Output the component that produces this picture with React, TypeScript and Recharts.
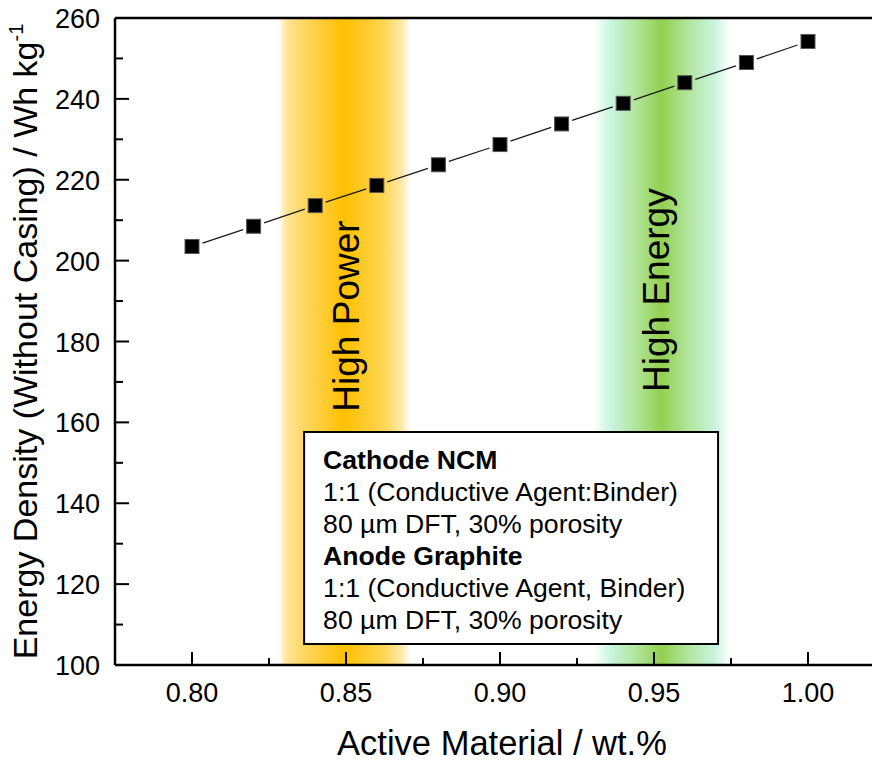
import React from "react";
import {
  ReferenceArea,
  ReferenceDot,
  ReferenceLine,
  Scatter,
  ScatterChart,
  XAxis,
  YAxis,
} from "recharts";

const FONT = '"Liberation Sans", Arial, sans-serif';

// series: energy density vs. active material fraction
const activeMaterial = [0.8, 0.82, 0.84, 0.86, 0.88, 0.9, 0.92, 0.94, 0.96, 0.98, 1.0];
const energyDensity = [203.5, 208.5, 213.6, 218.6, 223.7, 228.7, 233.8, 238.9, 244.0, 249.0, 254.2];

// axis ticks
const xMajorTicks = [0.8, 0.85, 0.9, 0.95, 1.0];
const xMinorTicks = [0.825, 0.875, 0.925, 0.975];
const yMajorTicks = [100, 120, 140, 160, 180, 200, 220, 240, 260];
const yMinorTicks = [110, 130, 150, 170, 190, 210, 230, 250];

// shaded regions [from, to] on the x axis
const powerBand = [0.828, 0.871];
const energyBand = [0.931, 0.974];

// band labels [x, y]
const powerLabelPos = [0.85, 186.3];
const energyLabelPos = [0.9505, 192.7];

// info box corners [x1, x2] and [y1, y2]
const boxX = [0.8364, 0.9708];
const boxY = [105.2, 157.6];
const boxLines = [
  { text: "Cathode NCM", bold: true },
  { text: "1:1 (Conductive Agent:Binder)", bold: false },
  { text: "80 µm DFT, 30% porosity", bold: false },
  { text: "Anode Graphite", bold: true },
  { text: "1:1 (Conductive Agent, Binder)", bold: false },
  { text: "80 µm DFT, 30% porosity", bold: false },
];

const data = activeMaterial.map((x, i) => ({ x, y: energyDensity[i] }));
const xTicks = [...xMajorTicks, ...xMinorTicks].sort((a, b) => a - b);
const yTicks = [...yMajorTicks, ...yMinorTicks].sort((a, b) => a - b);

const isMajor = (v: number, list: number[]) => list.some((m) => Math.abs(m - v) < 1e-6);

function XTick(props: any) {
  const { x, y, payload } = props;
  const major = isMajor(payload.value, xMajorTicks);
  return (
    <g>
      <line x1={x} x2={x} y1={y} y2={y - (major ? 13 : 7)} stroke="#000" strokeWidth={2} />
      {major && (
        <text x={x} y={y + 37} textAnchor="middle" fontSize={27} fontFamily={FONT} fill="#000">
          {payload.value.toFixed(2)}
        </text>
      )}
    </g>
  );
}

function YTick(props: any) {
  const { x, y, payload } = props;
  const major = isMajor(payload.value, yMajorTicks);
  return (
    <g>
      <line x1={x} x2={x + (major ? 14 : 8)} y1={y} y2={y} stroke="#000" strokeWidth={2} />
      {major && (
        <text x={x - 15} y={y + 10} textAnchor="end" fontSize={27} fontFamily={FONT} fill="#000">
          {payload.value}
        </text>
      )}
    </g>
  );
}

function XLabel(props: any) {
  const vb = props.viewBox;
  return (
    <text x={vb.x + vb.width / 2 + 2} y={vb.y + 90} textAnchor="middle" fontSize={34.5} fontFamily={FONT} fill="#000">
      Active Material / wt.%
    </text>
  );
}

function YLabel(props: any) {
  const vb = props.viewBox;
  const cx = 29;
  const cy = vb.y + vb.height / 2;
  return (
    <text
      x={cx}
      y={cy}
      textAnchor="middle"
      fontSize={34}
      fontFamily={FONT}
      fill="#000"
      transform={`rotate(-90, ${cx}, ${cy})`}
    >
      Energy Density (Without Casing) / Wh kg
      <tspan fontSize={20} dy={-14}>-1</tspan>
    </text>
  );
}

function bandLabel(text: string) {
  return (props: any) => {
    const vb = props.viewBox;
    const cx = vb.x + (vb.width || 0) / 2;
    const cy = vb.y + (vb.height || 0) / 2;
    return (
      <text
        x={cx}
        y={cy}
        dy={13}
        textAnchor="middle"
        fontSize={37}
        fontFamily={FONT}
        fill="#000"
        transform={`rotate(-90, ${cx}, ${cy})`}
      >
        {text}
      </text>
    );
  };
}

function BoxText(props: any) {
  const vb = props.viewBox;
  return (
    <g>
      {boxLines.map((l, i) => (
        <text
          key={i}
          x={vb.x + 19}
          y={vb.y + 37 + i * 32}
          fontSize={26.6}
          fontFamily={FONT}
          fontWeight={l.bold ? "bold" : "normal"}
          fill="#000"
        >
          {l.text}
        </text>
      ))}
    </g>
  );
}

// line segments that stop short of each marker
function GapLine(props: any) {
  const pts = props.points || [];
  const gap = 11;
  const segs = [];
  for (let i = 0; i < pts.length - 1; i++) {
    const a = pts[i];
    const b = pts[i + 1];
    const dx = b.x - a.x;
    const dy = b.y - a.y;
    const len = Math.sqrt(dx * dx + dy * dy);
    if (len <= gap * 2) continue;
    const ux = dx / len;
    const uy = dy / len;
    segs.push(
      <line
        key={i}
        x1={a.x + ux * gap}
        y1={a.y + uy * gap}
        x2={b.x - ux * gap}
        y2={b.y - uy * gap}
        stroke="#1a1a1a"
        strokeWidth={1.3}
      />
    );
  }
  return <g>{segs}</g>;
}

function SquareDot(props: any) {
  const { cx, cy } = props;
  return <rect x={cx - 7} y={cy - 7} width={14} height={14} fill="#000" stroke="#555" strokeWidth={1} />;
}

export default function App() {
  return (
    <div style={{ width: 872, height: 753, overflow: "hidden" }}>
      <ScatterChart width={877} height={753} margin={{ top: 10, right: 0, bottom: 0, left: 0 }}>
        <defs>
          <linearGradient id="powerGrad" x1="0" y1="0" x2="1" y2="0">
            <stop offset="0%" stopColor="#FFFFFF" />
            <stop offset="6%" stopColor="#FFE59A" />
            <stop offset="18%" stopColor="#FFD866" />
            <stop offset="50%" stopColor="#FFC000" />
            <stop offset="80%" stopColor="#FFD655" />
            <stop offset="93%" stopColor="#FFE9A8" />
            <stop offset="100%" stopColor="#FFFFFF" />
          </linearGradient>
          <linearGradient id="energyGrad" x1="0" y1="0" x2="1" y2="0">
            <stop offset="0%" stopColor="#F6FFFA" />
            <stop offset="12%" stopColor="#C9F4DE" />
            <stop offset="30%" stopColor="#B2E59C" />
            <stop offset="50%" stopColor="#92D050" />
            <stop offset="70%" stopColor="#B2E59C" />
            <stop offset="90%" stopColor="#C9F4DE" />
            <stop offset="100%" stopColor="#F4FFF9" />
          </linearGradient>
        </defs>
        <XAxis
          dataKey="x"
          type="number"
          domain={[0.775, 1.025]}
          ticks={xTicks}
          interval={0}
          allowDataOverflow
          tickSize={0}
          tickMargin={0}
          tickLine={false}
          tick={<XTick />}
          axisLine={{ stroke: "#000", strokeWidth: 2.5 }}
          height={96}
          label={XLabel}
        />
        <YAxis
          dataKey="y"
          type="number"
          domain={[100, 260]}
          ticks={yTicks}
          interval={0}
          allowDataOverflow
          tickSize={0}
          tickMargin={0}
          tickLine={false}
          tick={<YTick />}
          axisLine={{ stroke: "#000", strokeWidth: 2.5 }}
          width={107}
          label={YLabel}
        />
        <ReferenceArea x1={powerBand[0]} x2={powerBand[1]} y1={100} y2={260} fill="url(#powerGrad)" fillOpacity={1} stroke="none" />
        <ReferenceArea x1={energyBand[0]} x2={energyBand[1]} y1={100} y2={260} fill="url(#energyGrad)" fillOpacity={1} stroke="none" />
        <ReferenceLine y={260} stroke="#000" strokeWidth={2.5} />
        <ReferenceDot x={powerLabelPos[0]} y={powerLabelPos[1]} r={0} stroke="none" fill="none" label={bandLabel("High Power")} />
        <ReferenceDot x={energyLabelPos[0]} y={energyLabelPos[1]} r={0} stroke="none" fill="none" label={bandLabel("High Energy")} />
        <ReferenceArea
          x1={boxX[0]}
          x2={boxX[1]}
          y1={boxY[0]}
          y2={boxY[1]}
          fill="#fff"
          fillOpacity={1}
          stroke="#000"
          strokeWidth={2}
          label={BoxText}
        />
        <Scatter data={data} fill="#000" line={GapLine} shape={SquareDot} isAnimationActive={false} />
      </ScatterChart>
    </div>
  );
}
